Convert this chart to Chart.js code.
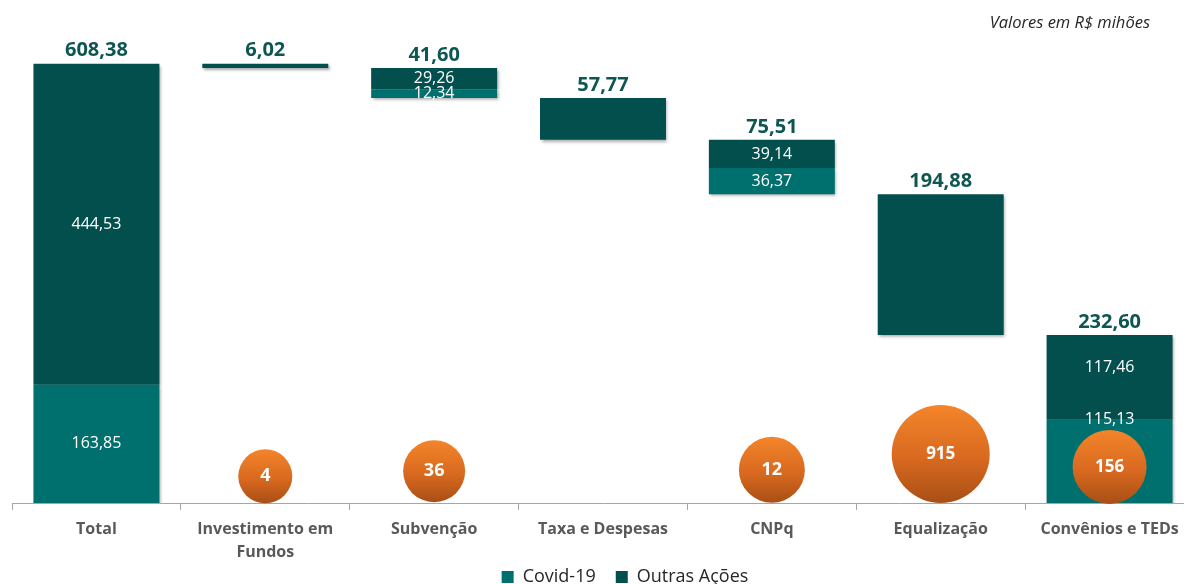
<!DOCTYPE html>
<html>
<head>
  <meta charset="utf-8" />
  <title>Waterfall - Valores em R$ milhões</title>
  <script src="https://cdn.jsdelivr.net/npm/chart.js"></script>
  <style>
    html, body { margin: 0; padding: 0; background: #fff; overflow: hidden; }
    #wrap { width: 1194px; height: 584px; }
  </style>
</head>
<body>
  <div id="wrap"><canvas id="cascata"></canvas></div>
  <script>
    // dados (R$ milhões)
    const categorias = ['Total', ['Investimento em', 'Fundos'], 'Subvenção', 'Taxa e Despesas', 'CNPq', 'Equalização', 'Convênios e TEDs'];
    const totais = [608.38, 6.02, 41.60, 57.77, 75.51, 194.88, 232.60];
    const covid = [163.85, 0, 12.34, 0, 36.37, 0, 115.13];
    const outrasAcoes = [444.53, 6.02, 29.26, 57.77, 39.14, 194.88, 117.46];
    // bolhas (quantidade), altura do centro e raio
    const bolhas = [null, 4, 36, null, 12, 915, 156];
    const bolhaY = [null, 37, 44, null, 46, 68, 50];
    const bolhaR = [null, 27, 31, null, 33, 49, 37];

    const fmt = v => v.toLocaleString('pt-BR', { minimumFractionDigits: 2, maximumFractionDigits: 2 });

    // monta a cascata: primeira barra parte do zero, as outras descem
    const bases = [];
    let resto = totais[0];
    totais.forEach((t, i) => {
      if (i === 0) { bases.push(0); return; }
      resto -= t;
      bases.push(Math.max(resto, 0));
    });
    const covidData = covid.map((c, i) => c > 0 ? [bases[i], bases[i] + c] : null);
    const outrasData = totais.map((t, i) => [bases[i] + covid[i], bases[i] + t]);
    const bolhaData = bolhas.map((b, i) => b == null ? null : { x: categorias[i], y: bolhaY[i], r: bolhaR[i] }).filter(Boolean);
    const bolhaTxt = bolhas.filter(b => b != null);

    const fonte = '"Open Sans", sans-serif';

    const sombra = {
      id: 'sombra',
      beforeDatasetDraw(chart, args) {
        if (args.meta.type !== 'bar') return;
        const ctx = chart.ctx;
        ctx.save();
        ctx.shadowColor = 'rgba(0,0,0,0.35)';
        ctx.shadowBlur = 3;
        ctx.shadowOffsetX = 1.5;
        ctx.shadowOffsetY = 2;
      },
      afterDatasetDraw(chart, args) {
        if (args.meta.type !== 'bar') return;
        chart.ctx.restore();
      }
    };

    // legenda um pouco à direita do centro, como no original
    const ajusteLegenda = {
      id: 'ajusteLegenda',
      afterLayout(chart) {
        chart.legend.left += 22;
        chart.legend.right += 22;
      }
    };

    const rotulos = {
      id: 'rotulos',
      afterDatasetsDraw(chart) {
        const ctx = chart.ctx;
        const mCovid = chart.getDatasetMeta(0);
        const mOutras = chart.getDatasetMeta(1);
        const mBolha = chart.getDatasetMeta(2);
        ctx.save();
        ctx.textAlign = 'center';
        ctx.textBaseline = 'middle';
        totais.forEach((t, i) => {
          const top = mOutras.data[i];
          // total acima da barra
          ctx.fillStyle = '#0D5652';
          ctx.font = 'bold 20px ' + fonte;
          ctx.fillText(fmt(t), top.x, top.y - 13);
          if (covid[i] > 0) {
            ctx.fillStyle = '#ffffff';
            ctx.font = '16px ' + fonte;
            const cv = mCovid.data[i];
            let yo = (top.y + top.base) / 2;
            let yc = (cv.y + cv.base) / 2;
            // bolha cobre o meio: sobe os rótulos
            if (bolhas[i] != null && cv.base - cv.y > 60) { yc = cv.y; yo -= 10; }
            ctx.fillText(fmt(outrasAcoes[i]), top.x, yo);
            ctx.fillText(fmt(covid[i]), cv.x, yc);
          }
        });
        mBolha.data.forEach((el, k) => {
          ctx.fillStyle = '#ffffff';
          ctx.font = 'bold ' + (bolhaTxt[k] > 100 ? 17 : 18) + 'px ' + fonte;
          ctx.fillText(String(bolhaTxt[k]), el.x, el.y);
        });
        // nota no canto
        ctx.fillStyle = '#262626';
        ctx.font = 'italic 16.5px ' + fonte;
        ctx.textAlign = 'right';
        ctx.fillText('Valores em R$ mihões', 1150, 23);
        ctx.restore();
      }
    };

    function gradBolha(c) {
      const chart = c.chart;
      const d = c.raw;
      if (!chart.chartArea || !d || !chart.scales.y) return '#E06B1C';
      const cy = chart.scales.y.getPixelForValue(d.y);
      const g = chart.ctx.createLinearGradient(0, cy - d.r, 0, cy + d.r);
      g.addColorStop(0, '#F4852A');
      g.addColorStop(0.55, '#D8691F');
      g.addColorStop(1, '#A84F16');
      return g;
    }

    new Chart(document.getElementById('cascata'), {
      data: {
        labels: categorias,
        datasets: [
          {
            type: 'bar',
            label: 'Covid-19',
            data: covidData,
            backgroundColor: '#00706F',
            barPercentage: 0.746,
            categoryPercentage: 1,
            order: 1
          },
          {
            type: 'bar',
            label: 'Outras Ações',
            data: outrasData,
            backgroundColor: '#024F4E',
            barPercentage: 0.746,
            categoryPercentage: 1,
            order: 2
          },
          {
            type: 'bubble',
            label: 'Projetos',
            data: bolhaData,
            backgroundColor: gradBolha,
            borderWidth: 0,
            clip: false,
            order: 0
          }
        ]
      },
      options: {
        responsive: true,
        maintainAspectRatio: false,
        animation: false,
        layout: { autoPadding: false, padding: { top: 12, left: 12, right: 0, bottom: -12 } },
        scales: {
          x: {
            type: 'category',
            stacked: true,
            offset: true,
            grid: { display: true, offset: true, drawOnChartArea: false, drawTicks: true, tickLength: 7, color: '#A6A6A6' },
            border: { color: '#A6A6A6' },
            ticks: { color: '#595959', font: { family: fonte, size: 16, weight: 'bold', lineHeight: 1.45 }, padding: 8, maxRotation: 0 },
            afterFit(s) { s.paddingLeft = 0; s.paddingRight = 0; s.height = 59; }
          },
          y: { display: false, min: 0, max: 680, stacked: false }
        },
        plugins: {
          tooltip: { enabled: false },
          legend: {
            position: 'bottom',
            labels: {
              boxWidth: 12,
              boxHeight: 12,
              padding: 6,
              color: '#262626',
              font: { family: fonte, size: 18 },
              generateLabels(chart) {
                const itens = Chart.defaults.plugins.legend.labels.generateLabels(chart)
                  .filter(it => it.text !== 'Projetos');
                itens[0].text += '   ';
                return itens;
              }
            }
          }
        }
      },
      plugins: [sombra, ajusteLegenda, rotulos]
    });
  </script>
</body>
</html>
